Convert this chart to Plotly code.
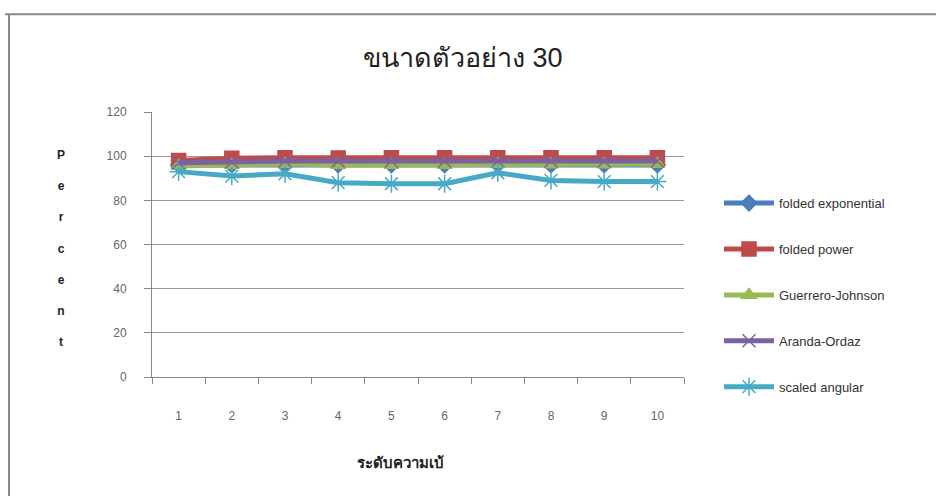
import plotly.graph_objects as go

categories = ["1", "2", "3", "4", "5", "6", "7", "8", "9", "10"]
folded_exponential = [96.0, 96.0, 96.3, 96.0, 96.0, 96.0, 96.3, 96.0, 96.0, 96.0]
folded_power = [98.0, 99.0, 99.3, 99.2, 99.3, 99.3, 99.3, 99.3, 99.3, 99.3]
guerrero_johnson = [95.5, 96.0, 96.5, 96.0, 96.0, 96.0, 96.5, 96.2, 96.2, 96.5]
aranda_ordaz = [97.0, 97.5, 97.8, 97.8, 97.8, 97.8, 97.8, 97.8, 97.8, 97.8]
scaled_angular = [93.0, 91.0, 92.0, 88.0, 87.5, 87.5, 92.5, 89.0, 88.5, 88.5]
y_ticks = [0, 20, 40, 60, 80, 100, 120]

series = [
    ("folded exponential", folded_exponential, "#4a7ebb", "diamond", 12),
    ("folded power", folded_power, "#be4b48", "square", 14),
    ("Guerrero-Johnson", guerrero_johnson, "#98b954", "triangle-up", 13),
    ("Aranda-Ordaz", aranda_ordaz, "#7d60a0", "x-thin", 13),
    ("scaled angular", scaled_angular, "#46aac5", "asterisk-open", 15),
]

fig = go.Figure()
for i, (name, vals, color, sym, size) in enumerate(series):
    fig.add_trace(go.Scatter(
        x=categories, y=vals, name=name, mode="lines+markers",
        line=dict(color=color, width=5),
        marker=dict(symbol=sym, size=size, color=color,
                    line=dict(color=color, width=1.5)),
        legendgroup=f"g{i}",
    ))

W, H = 936, 497
L, R, T, B = 152, 684, 111.6, 377.5

def px_x(p):
    return (p - L) / (R - L)

def px_y(p):
    return (B - p) / (B - T)

fig.update_layout(
    width=W, height=H,
    margin=dict(l=L, r=W - R, t=T, b=H - B),
    paper_bgcolor="white", plot_bgcolor="rgba(0,0,0,0)",
    font=dict(family="Liberation Sans, Arial, sans-serif", color="#333"),
    showlegend=True,
    legend=dict(
        x=px_x(719), y=px_y(188), xanchor="left", yanchor="top",
        font=dict(size=13, color="#333"),
        traceorder="grouped", tracegroupgap=26,
        bgcolor="rgba(0,0,0,0)", itemwidth=50,
    ),
    xaxis=dict(
        type="category", showgrid=False, showline=True, linecolor="#888", linewidth=1,
        ticks="outside", tickson="boundaries", ticklen=6, tickcolor="#888",
        tickfont=dict(size=12, color="#666"), ticklabelstandoff=28,
        range=[-0.5, 9.5],
    ),
    yaxis=dict(
        range=[0, 120], tickvals=y_ticks, showgrid=True, gridcolor="#999", gridwidth=1,
        showline=True, linecolor="#888", linewidth=1, ticks="outside", ticklen=7,
        tickcolor="#888", tickfont=dict(size=12, color="#666"), ticklabelstandoff=15,
        zeroline=False,
    ),
    shapes=[
        dict(type="line", xref="paper", yref="paper", x0=px_x(5), x1=px_x(936),
             y0=px_y(13.5), y1=px_y(13.5), line=dict(color="#888", width=2)),
        dict(type="line", xref="paper", yref="paper", x0=px_x(9), x1=px_x(9),
             y0=px_y(13.5), y1=px_y(497), line=dict(color="#888", width=2)),
    ],
    annotations=[
        dict(text="ขนาดตัวอย่าง 30", xref="paper", yref="paper", x=px_x(463), y=px_y(57),
             xanchor="center", yanchor="middle", showarrow=False,
             font=dict(size=27, color="#222")),
        dict(text="<b>ระดับความเบ้</b>", xref="paper", yref="paper", x=px_x(400), y=px_y(463),
             xanchor="center", yanchor="middle", showarrow=False,
             font=dict(size=15, color="#222")),
        dict(text="<b>" + "<br><br>".join(list("Percent")) + "</b>", xref="paper", yref="paper",
             x=px_x(61), y=px_y(249), xanchor="center", yanchor="middle", showarrow=False,
             font=dict(size=12, color="#222"), align="center"),
    ],
)

fig.write_html("out.html")
